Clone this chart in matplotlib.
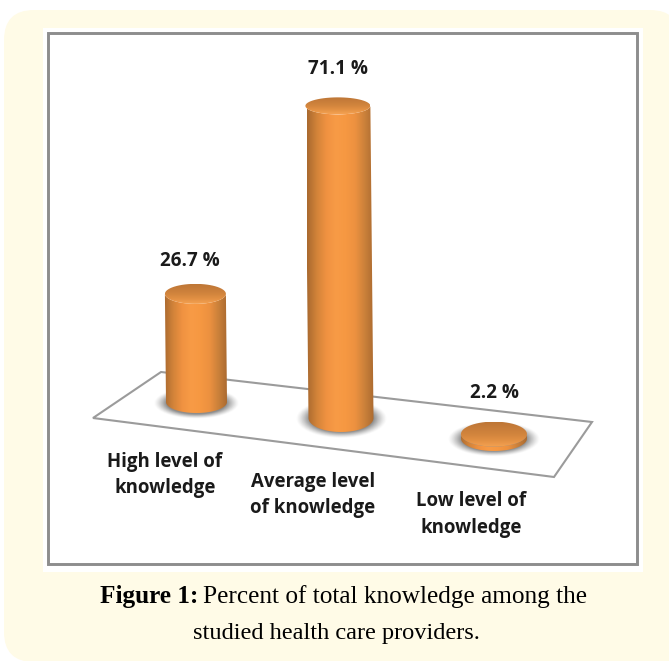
import numpy as np
import matplotlib
matplotlib.use("Agg")
import matplotlib.pyplot as plt
from matplotlib.colors import LinearSegmentedColormap
from matplotlib.patches import FancyBboxPatch, PathPatch, Polygon, Rectangle
from matplotlib.path import Path

# chart values
categories = ["High level of\nknowledge", "Average level\nof knowledge", "Low level of\nknowledge"]
percents = [26.7, 71.1, 2.2]
value_labels = ["26.7 %", "71.1 %", "2.2 %"]
caption_bold = "Figure 1:"
caption_line1 = "Percent of total knowledge among the"
caption_line2 = "studied health care providers."

# where each cylinder stands on the plate, in figure pixels
base_x = [196.5, 341, 494]
base_y = [402, 418, 438.5]
half_w = [30.5, 32.5, 33]
cap_h = [10, 8.5, 12.5]
base_h = [11, 14, 12.5]
px_per_pct = [4.05, 4.39, 2.0]

label_xy = [(190, 260.5), (338, 68.5), (494, 393.5)]
cat_xy = [(165, 475), (313, 495), (471, 514.5)]

body_cmap = LinearSegmentedColormap.from_list(
    "body", ["#a9692f", "#d28339", "#f09241", "#f89b46", "#f69842", "#ec9140", "#c9803a", "#a8682f"])
cap_cmap = LinearSegmentedColormap.from_list(
    "cap", ["#bd7636", "#c87d3a", "#d2853d", "#e39144", "#f5a252"])

fig = plt.figure(figsize=(6.69, 6.61), dpi=100, facecolor="white")
ax = fig.add_axes([0, 0, 1, 1])
ax.set_xlim(0, 669)
ax.set_ylim(661, 0)
ax.axis("off")

panel = "#fffbe7"
ax.add_patch(FancyBboxPatch((4, 10), 676, 652, boxstyle="round,pad=0,rounding_size=30",
                            fc=panel, ec="none", zorder=0))
ax.add_patch(Rectangle((300, 600), 369, 61, fc=panel, ec="none", zorder=0))
ax.add_patch(Rectangle((42.5, 27.5), 600, 544, fc="white", ec="none", zorder=1))
ax.add_patch(Rectangle((47.5, 33), 589.5, 531, fc="white", ec="#8d8d8d", lw=2.1, zorder=2))

# floor plate
ax.add_patch(Polygon([(93, 418), (161, 372), (592, 422), (554, 477)], closed=True,
                     fc="white", ec="#9b9b9b", lw=1.5, zorder=3))


def ellipse_pts(cx, cy, rx, ry, start, stop, n=60):
    t = np.radians(np.linspace(start, stop, n))
    return np.column_stack([cx + rx * np.cos(t), cy + ry * np.sin(t)])


def soft_shadow(cx, cy, rx, ry):
    gx, gy = np.meshgrid(np.linspace(-1.45, 1.45, 120), np.linspace(-1.6, 1.6, 120))
    r = np.sqrt(gx ** 2 + gy ** 2)
    img = np.zeros((120, 120, 4))
    img[..., :3] = 0.35
    img[..., 3] = 0.7 * np.clip((1.4 - r) / 0.42, 0, 1) ** 1.3
    ax.imshow(img, extent=[cx - rx * 1.45, cx + rx * 1.45, cy + ry * 1.6, cy - ry * 1.6],
              aspect="auto", zorder=4, interpolation="bilinear")


def gradient_fill(verts, cmap, x0, x1, y0, y1, horizontal, z):
    patch = PathPatch(Path(np.vstack([verts, verts[0]])), fc="none", ec="none", zorder=z)
    ax.add_patch(patch)
    ramp = np.linspace(0, 1, 256)
    data = ramp[None, :] if horizontal else ramp[:, None]
    im = ax.imshow(data, cmap=cmap, extent=[x0, x1, y1, y0], aspect="auto",
                   zorder=z, interpolation="bilinear", vmin=0, vmax=1)
    im.set_clip_path(patch)


for i, pct in enumerate(percents):
    bx, by, w = base_x[i], base_y[i], half_w[i]
    height = pct * px_per_pct[i]
    tx = bx - 0.01 * height
    ty = by - height
    soft_shadow(bx, by + 1, w, base_h[i])
    lower = ellipse_pts(bx, by, w, base_h[i], 180, 0)
    body = np.vstack([[(tx - w, ty)], lower, [(tx + w, ty)],
                      ellipse_pts(tx, ty, w, cap_h[i], 0, 180)])
    gradient_fill(body, body_cmap, bx - w - 2, bx + w + 1, ty, by + base_h[i], True, 5)
    cap = ellipse_pts(tx, ty, w, cap_h[i], 0, 360)
    gradient_fill(cap, cap_cmap, tx - w, tx + w, ty - cap_h[i], ty + cap_h[i], False, 6)
    ax.text(label_xy[i][0], label_xy[i][1], value_labels[i], ha="center", va="center",
            family="Open Sans", weight="bold", fontsize=13.6, color="#1a1a1a", zorder=8)
    ax.text(cat_xy[i][0], cat_xy[i][1], categories[i], ha="center", va="center",
            family="Open Sans", weight="bold", fontsize=13.4, color="#1a1a1a",
            linespacing=1.45, zorder=8)

# caption below the frame
ax.text(100, 597, caption_bold, ha="left", va="center", family="Liberation Serif",
        weight="bold", fontsize=18.2, color="black")
ax.text(203, 597, caption_line1, ha="left", va="center", family="Liberation Serif",
        fontsize=18.2, color="black")
ax.text(336, 634, caption_line2, ha="center", va="center", family="Liberation Serif",
        fontsize=17.6, color="black")

ax.set_xlim(0, 669)
ax.set_ylim(661, 0)
fig.savefig("out.png", dpi=100)
